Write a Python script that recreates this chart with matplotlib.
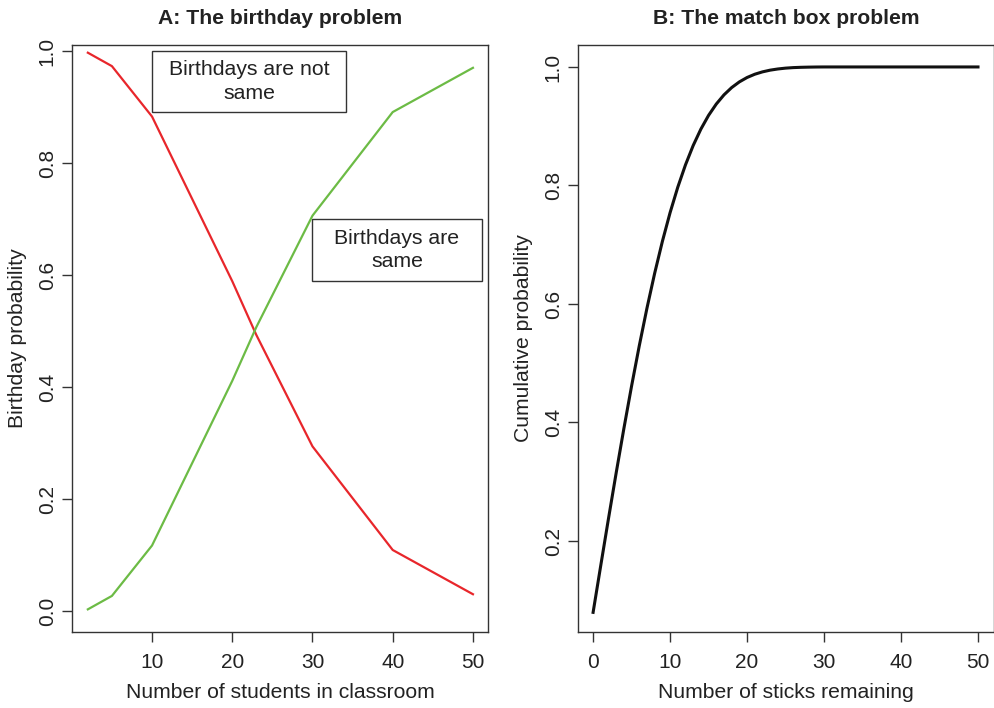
"""Birthday problem (A) and Banach match box problem (B), two panels side by side."""
import matplotlib
matplotlib.use('Agg')
import matplotlib.pyplot as plt
from matplotlib.patches import Rectangle

plt.rcParams['font.family'] = ['Liberation Sans', 'DejaVu Sans']

# ---- data ----
students = [2, 5, 10, 20, 23, 30, 40, 50]
p_not_same = [0.997, 0.973, 0.883, 0.589, 0.493, 0.294, 0.109, 0.030]
p_same = [0.003, 0.027, 0.117, 0.411, 0.507, 0.706, 0.891, 0.970]

sticks = list(range(51))
cum_prob = [0.0796, 0.1592, 0.2380, 0.3152, 0.3900, 0.4617, 0.5296, 0.5932, 0.6520, 0.7057,
            0.7541, 0.7971, 0.8348, 0.8674, 0.8951, 0.9183, 0.9374, 0.9529, 0.9652, 0.9748,
            0.9822, 0.9877, 0.9917, 0.9946, 0.9966, 0.9980, 0.9989, 0.9994, 0.9997, 0.9999,
            1.0, 1.0, 1.0, 1.0, 1.0, 1.0, 1.0, 1.0, 1.0, 1.0,
            1.0, 1.0, 1.0, 1.0, 1.0, 1.0, 1.0, 1.0, 1.0, 1.0, 1.0]

RED = '#e8262b'
GREEN = '#6cbb45'
FRAME = '#333333'
TXT = '#222222'

fig = plt.figure(figsize=(9.95, 7.08), dpi=100)
axA = fig.add_axes([0.0724, 0.1073, 0.418, 0.8291])
axB = fig.add_axes([0.581, 0.1073, 0.418, 0.8291])


def style(ax):
    for s in ax.spines.values():
        s.set_color(FRAME); s.set_linewidth(1.0)
    ax.tick_params(axis='both', length=7, width=1.0, color=FRAME, labelsize=15, labelcolor=TXT)
    ax.tick_params(axis='x', pad=8)
    ax.tick_params(axis='y', labelrotation=90, pad=4)
    for lab in ax.get_yticklabels():
        lab.set_va('center')


# ---- A: birthday problem ----
axA.plot(students, p_not_same, color=RED, lw=1.6)
axA.plot(students, p_same, color=GREEN, lw=1.6)
axA.set_xlim(0.03, 51.87)
axA.set_ylim(-0.0375, 1.0107)
axA.set_xticks([10, 20, 30, 40, 50])
axA.set_yticks([0.0, 0.2, 0.4, 0.6, 0.8, 1.0])
axA.set_yticklabels(['0.0', '0.2', '0.4', '0.6', '0.8', '1.0'])
axA.set_xlabel('Number of students in classroom', fontsize=15.2, labelpad=8, color=TXT)
axA.set_ylabel('Birthday probability', fontsize=15.2, labelpad=8, color=TXT)
axA.set_title('A: The birthday problem', fontsize=15.2, fontweight='bold', pad=15, color=TXT)
style(axA)

# legend-like boxes
axA.add_patch(Rectangle((10, 0.891), 24.2, 0.109, fill=False, ec=FRAME, lw=1.0))
axA.text(22.1, 0.9455, 'Birthdays are not\nsame', ha='center', va='center', fontsize=15.3,
         color=TXT, linespacing=1.3)
axA.add_patch(Rectangle((29.94, 0.589), 21.2, 0.111, fill=False, ec=FRAME, lw=1.0))
axA.text(40.54, 0.6445, 'Birthdays are\nsame', ha='center', va='center', fontsize=15.3,
         color=TXT, linespacing=1.3)

# ---- B: match box problem ----
axB.plot(sticks, cum_prob, color='#111111', lw=2.2)
axB.set_xlim(-1.95, 52.08)
axB.set_ylim(0.0464, 1.037)
axB.set_xticks([0, 10, 20, 30, 40, 50])
axB.set_yticks([0.2, 0.4, 0.6, 0.8, 1.0])
axB.set_yticklabels(['0.2', '0.4', '0.6', '0.8', '1.0'])
axB.set_xlabel('Number of sticks remaining', fontsize=15.2, labelpad=8, color=TXT)
axB.set_ylabel('Cumulative probability', fontsize=15.2, labelpad=8, color=TXT)
axB.set_title('B: The match box problem', fontsize=15.2, fontweight='bold', pad=15, color=TXT)
style(axB)

fig.savefig('out.png', dpi=100)
